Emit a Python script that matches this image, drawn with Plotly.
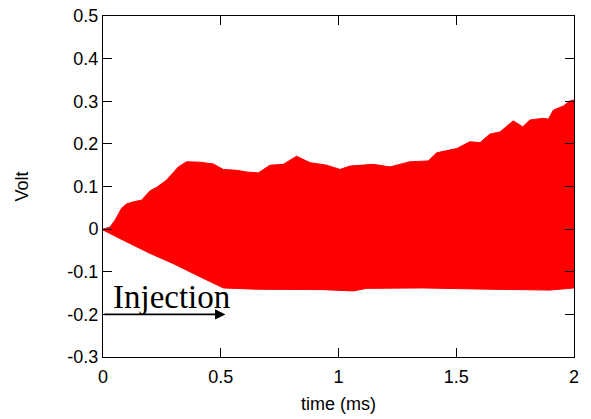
import plotly.graph_objects as go

# Upper envelope of the signal (time in ms, Volt)
upper_t = [0.0, 0.03, 0.051, 0.079, 0.10, 0.129, 0.164, 0.20, 0.228, 0.27, 0.32, 0.355,
           0.412, 0.468, 0.511, 0.568, 0.61, 0.66, 0.709, 0.766, 0.822, 0.879, 0.95,
           1.006, 1.049, 1.148, 1.219, 1.303, 1.381, 1.417, 1.502, 1.558, 1.601, 1.643,
           1.686, 1.742, 1.782, 1.813, 1.870, 1.891, 1.912, 1.955, 1.983, 2.0]
upper_v = [0.0, 0.005, 0.021, 0.049, 0.059, 0.064, 0.068, 0.090, 0.098, 0.115, 0.146, 0.158,
           0.157, 0.153, 0.140, 0.138, 0.134, 0.132, 0.150, 0.152, 0.171, 0.156, 0.150,
           0.140, 0.148, 0.152, 0.146, 0.158, 0.160, 0.179, 0.189, 0.205, 0.203, 0.223,
           0.228, 0.254, 0.240, 0.256, 0.260, 0.258, 0.279, 0.289, 0.301, 0.303]

# Lower envelope of the signal
lower_t = [0.0, 0.086, 0.20, 0.299, 0.398, 0.468, 0.511, 0.653, 0.935, 1.063, 1.12,
           1.36, 1.643, 1.898, 2.0]
lower_v = [-0.002, -0.026, -0.057, -0.081, -0.108, -0.127, -0.138, -0.141, -0.142,
           -0.145, -0.139, -0.138, -0.141, -0.143, -0.138]

x_ticks = [0, 0.5, 1, 1.5, 2]
x_labels = ["0", "0.5", "1", "1.5", "2"]
y_ticks = [-0.3, -0.2, -0.1, 0, 0.1, 0.2, 0.3, 0.4, 0.5]
y_labels = ["-0.3", "-0.2", "-0.1", "0", "0.1", "0.2", "0.3", "0.4", "0.5"]

# Injection arrow (start/end time, level)
inj_start, inj_end, inj_level = 0.0, 0.52, -0.2

poly_x = upper_t + lower_t[::-1]
poly_y = upper_v + lower_v[::-1]

fig = go.Figure()
fig.add_trace(go.Scatter(x=poly_x, y=poly_y, mode="lines", fill="toself",
                         fillcolor="#ff0000", line=dict(color="#ff0000", width=1),
                         hoverinfo="skip", showlegend=False))

fig.add_annotation(x=inj_end, y=inj_level, ax=inj_start, ay=inj_level,
                   xref="x", yref="y", axref="x", ayref="y",
                   showarrow=True, arrowhead=2, arrowsize=1.3, arrowwidth=1.6,
                   arrowcolor="black", text="")
fig.add_annotation(x=0.035, y=inj_level, xref="x", yref="y", text="Injection",
                   showarrow=False, xanchor="left", yanchor="bottom", yshift=-3,
                   font=dict(family="Liberation Serif", size=33, color="black"))

axis_common = dict(showline=True, linecolor="black", linewidth=1, mirror="allticks",
                   ticks="inside", ticklen=9, tickwidth=1, tickcolor="black",
                   showgrid=False, zeroline=False, ticklabeloverflow="allow",
                   automargin=False,
                   tickfont=dict(family="Liberation Sans", size=18, color="black"))

fig.update_xaxes(range=[0, 2], tickvals=x_ticks, ticktext=x_labels, ticklabelstandoff=3,
                 title=dict(text="time (ms)", standoff=11,
                            font=dict(family="Liberation Sans", size=18, color="black")),
                 **axis_common)
fig.update_yaxes(range=[-0.3, 0.5], tickvals=y_ticks, ticktext=y_labels,
                 title=dict(text="Volt", standoff=34,
                            font=dict(family="Liberation Sans", size=18, color="black")),
                 **axis_common)

fig.update_layout(width=591, height=419, margin=dict(l=103, r=17, t=16, b=62),
                  plot_bgcolor="white", paper_bgcolor="white")

fig.write_html("out.html", config={"displayModeBar": False},
               post_script="document.body.style.margin='0';document.body.style.padding='0';")
